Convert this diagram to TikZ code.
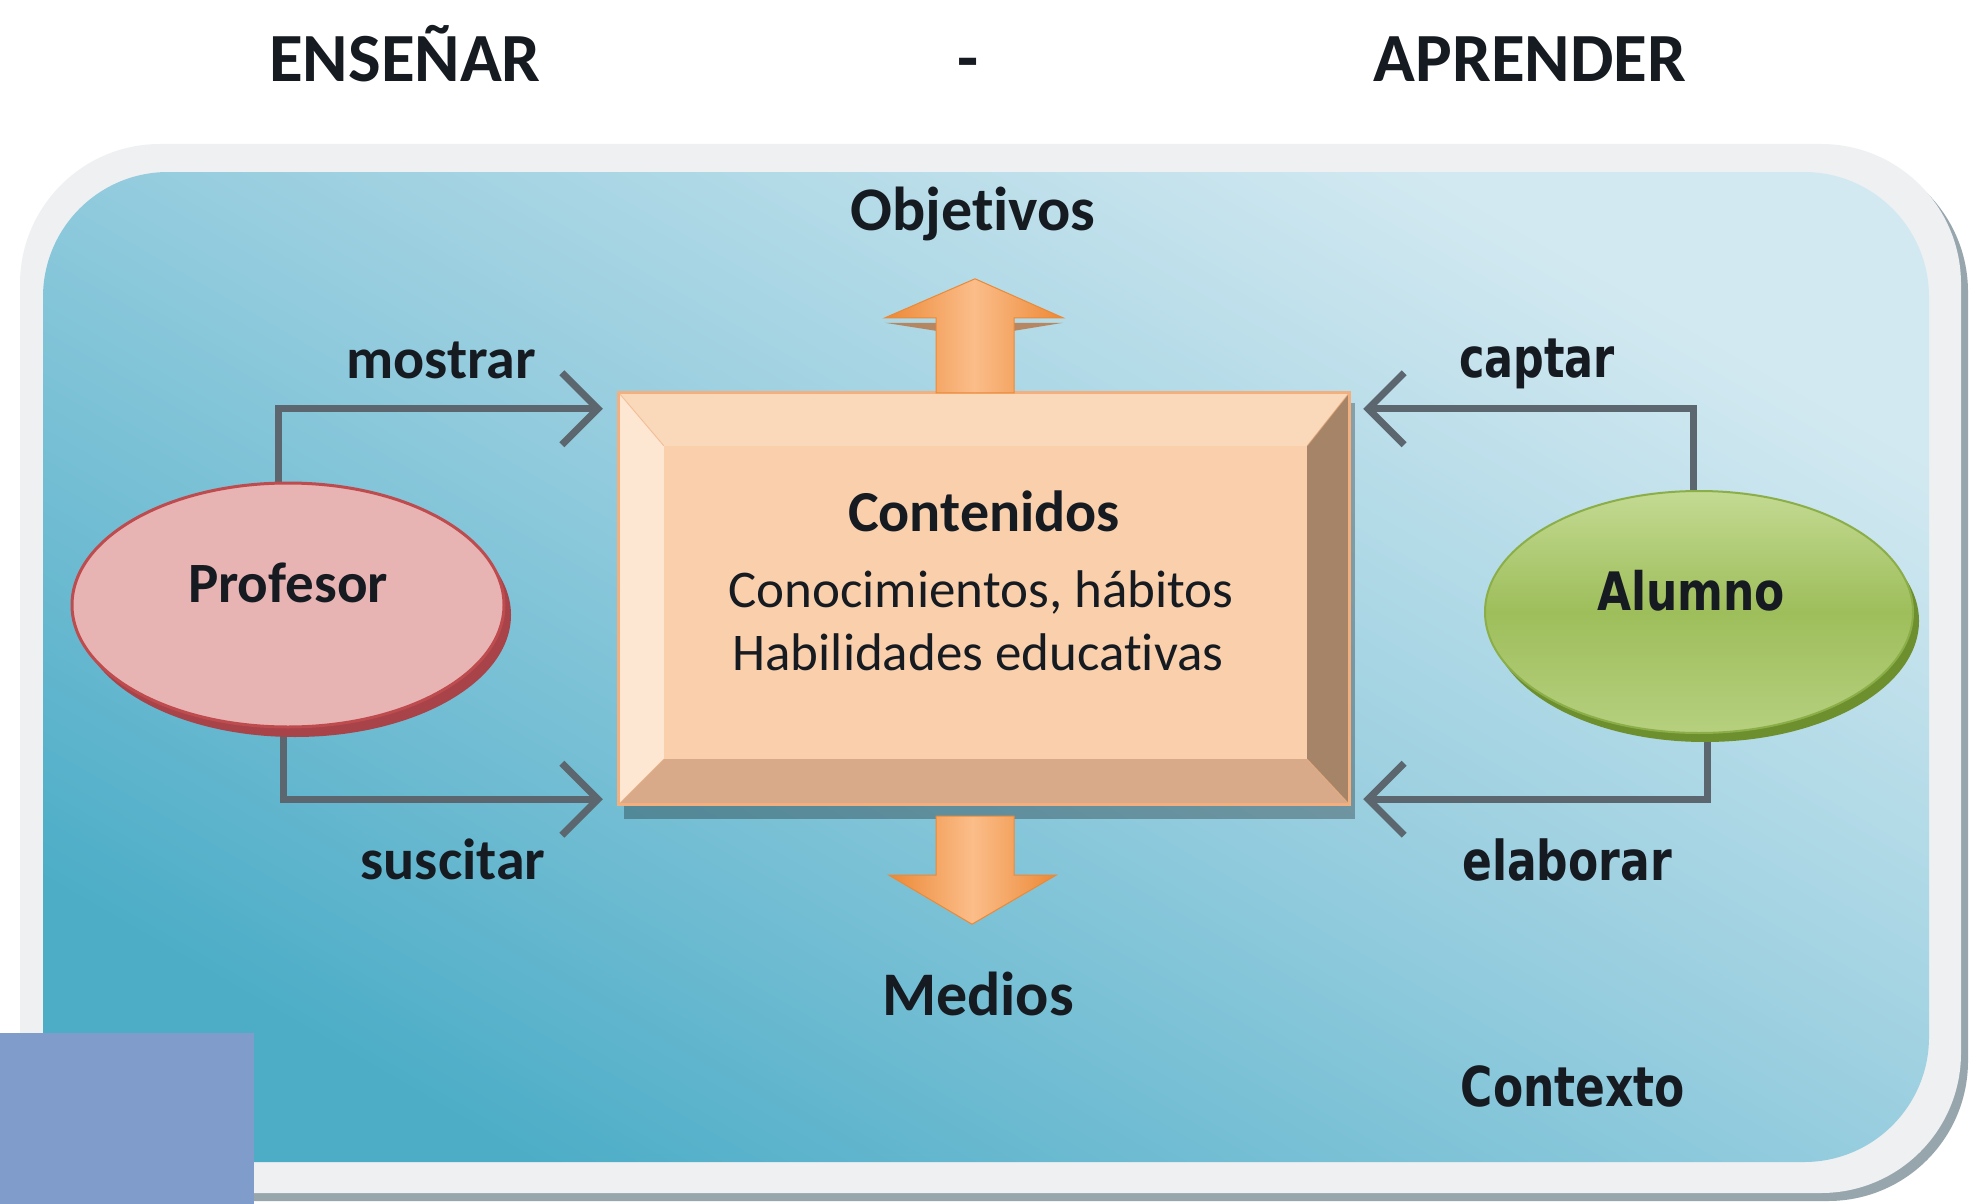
\documentclass[tikz,border=0pt]{standalone}
\usepackage{fontspec}
\setmainfont{Carlito}[Ligatures=NoCommon]
\newfontfamily\vfont{DejaVu Sans}
\usepackage{graphicx}
\usetikzlibrary{arrows.meta,calc,shapes.geometric}
\pgfdeclarelayer{bg}\pgfdeclarelayer{conn}\pgfsetlayers{bg,conn,main}
\definecolor{txt}{HTML}{161B22}
\definecolor{gline}{HTML}{5B666E}
\definecolor{framecol}{HTML}{EEF0F2}
\definecolor{frameshadow}{HTML}{97A5AD}
\definecolor{bluelight}{HTML}{D3E9F1}
\definecolor{bluemid}{HTML}{94CCDE}
\definecolor{bluedark}{HTML}{4DADC7}
\definecolor{profface}{HTML}{E8B3B3}
\definecolor{profedge}{HTML}{BE4B4E}
\definecolor{profrim}{HTML}{A8434A}
\definecolor{alumtop}{HTML}{C3DA92}
\definecolor{alummid}{HTML}{9EBE5B}
\definecolor{alumbot}{HTML}{B6D07F}
\definecolor{alumrim}{HTML}{6E8F2E}
\definecolor{alumedge}{HTML}{8CAE48}
\definecolor{bvtop}{HTML}{FAD8BA}
\definecolor{bvleft}{HTML}{FDE6D2}
\definecolor{bvright}{HTML}{A68468}
\definecolor{bvbot}{HTML}{D8AA89}
\definecolor{bvface}{HTML}{F9CFAC}
\definecolor{boxedge}{HTML}{F3B07E}
\definecolor{orgdark}{HTML}{EC8936}
\definecolor{orglight}{HTML}{FBBD8A}
\definecolor{orgshadow}{HTML}{B8652A}
\definecolor{purp}{HTML}{7F9CCB}
\begin{document}
\begin{tikzpicture}[x=1pt,y=-1pt,
  lab/.style={font=\fontsize{58pt}{68pt}\selectfont\bfseries, text=txt, anchor=base, inner sep=0pt},
  rlab/.style={font=\vfont\fontsize{55pt}{64pt}\selectfont\bfseries, text=txt, anchor=base, inner sep=0pt},
  ttl/.style={font=\fontsize{69pt}{80pt}\selectfont\bfseries, text=txt, anchor=base, inner sep=0pt},
  conn/.style={draw=gline, line width=7pt, -{Straight Barb[length=36pt,width=72pt]}},
  oarrow/.style={left color=orgdark, right color=orgdark, middle color=orglight, draw=orgdark, line width=1pt}
]
\useasboundingbox (0,0) rectangle (1978,1204);

\begin{pgfonlayer}{bg}
  \fill[white] (0,0) rectangle (1978,1204);
  \fill[frameshadow, rounded corners=140pt] (27,152) rectangle (1968,1201);
  \fill[framecol, rounded corners=140pt] (20,144) rectangle (1961,1193);
  \shade[rounded corners=125pt, top color=bluelight, bottom color=bluedark, middle color=bluemid, shading angle=-30] (43,172) rectangle (1929,1162);
\end{pgfonlayer}

% titles
\node[ttl] (ens) at (405,82) {ENSEÑAR};
\node[ttl] (dash) at (968,82) {-};
\node[ttl] (apr) at (1530,82) {APRENDER};

% central box
\node[minimum width=730pt, minimum height=411pt, inner sep=0pt] (cont) at (984,598.5) {};
\fill[black, opacity=.28] ($(cont.north west)+(5,10)$) rectangle ($(cont.south east)+(6,15)$);
\coordinate (iNW) at ($(cont.north west)+(45,53)$);
\coordinate (iNE) at ($(cont.north east)+(-42,53)$);
\coordinate (iSE) at ($(cont.south east)+(-42,-45)$);
\coordinate (iSW) at ($(cont.south west)+(45,-45)$);
\fill[bvface] (iNW) rectangle (iSE);
\fill[bvtop] (cont.north west) -- (cont.north east) -- (iNE) -- (iNW) -- cycle;
\fill[bvleft] (cont.north west) -- (iNW) -- (iSW) -- (cont.south west) -- cycle;
\fill[bvright] (cont.north east) -- (cont.south east) -- (iSE) -- (iNE) -- cycle;
\fill[bvbot] (cont.south west) -- (iSW) -- (iSE) -- (cont.south east) -- cycle;
\draw[boxedge, line width=1pt, opacity=.6] (cont.north west) -- (iNW) (cont.north east) -- (iNE) (cont.south east) -- (iSE) (cont.south west) -- (iSW);
\draw[boxedge, line width=3pt] (cont.north west) rectangle (cont.south east);

\node[lab] (conth) at (984,531) {Contenidos};
\node[font=\fontsize{53pt}{63pt}\selectfont, text=txt, anchor=base, inner sep=0pt, align=center] (cont1) at (981,607) {Conocimientos, hábitos};
\node[font=\fontsize{53pt}{63pt}\selectfont, text=txt, anchor=base, inner sep=0pt, align=center] (cont2) at (978,670) {Habilidades educativas};

% objetivos / medios
\node[lab, font=\fontsize{62pt}{72pt}\selectfont\bfseries] (obj) at (973,230) {Objetivos};
\node[lab, font=\fontsize{62pt}{72pt}\selectfont\bfseries] (med) at (978,1015) {Medios};

% orange arrows
\fill[orgshadow, opacity=.7] ($(cont.north)+(-99,-70)$) -- ($(cont.north)+(79,-70)$) -- ($(cont.north)+(30,-62)$) -- ($(cont.north)+(-48,-62)$) -- cycle;
\shade[oarrow] ($(cont.north)+(-48,0)$) -- ($(cont.north)+(-48,-75)$) -- ($(cont.north)+(-99,-75)$) -- ($(cont.north)+(-9,-114)$) -- ($(cont.north)+(79,-75)$) -- ($(cont.north)+(30,-75)$) -- ($(cont.north)+(30,0)$) -- cycle;
\shade[oarrow] ($(cont.south)+(-48,12)$) -- ($(cont.south)+(-48,71)$) -- ($(cont.south)+(-95,71)$) -- ($(cont.south)+(-12,120)$) -- ($(cont.south)+(72,71)$) -- ($(cont.south)+(30,71)$) -- ($(cont.south)+(30,12)$) -- cycle;

% Profesor
\fill[profrim] (295,615) ellipse [x radius=216, y radius=122];
\node[ellipse, minimum width=432pt, minimum height=244pt, inner sep=0pt, fill=profface, draw=profedge, line width=3pt] (prof) at (288,605) {};
\node[lab, font=\fontsize{57pt}{66pt}\selectfont\bfseries] (proft) at (288,602) {Profesor};

% Alumno
\fill[alumrim] (1705,621) ellipse [x radius=214, y radius=121];
\node[ellipse, minimum width=428pt, minimum height=242pt, inner sep=0pt, top color=alumtop, bottom color=alumbot, middle color=alummid, draw=alumedge, line width=2pt] (alum) at (1699,612) {};
\node[rlab, font=\vfont\fontsize{53pt}{62pt}\selectfont\bfseries] (alumt) at (1691,610) {\scalebox{0.83}[1]{Alumno}};

% connectors
\begin{pgfonlayer}{conn}
  \draw[conn] ([xshift=-10pt]prof.north) |- ([xshift=-16pt,yshift=-16pt]cont.north west);
  \draw[conn] ([xshift=-5pt]prof.south) |- ([xshift=-16pt,yshift=5pt]cont.south west);
  \draw[conn] ([xshift=-6pt]alum.north) |- ([xshift=14pt,yshift=-16pt]cont.north east);
  \draw[conn] ([xshift=8pt]alum.south) |- ([xshift=14pt,yshift=5pt]cont.south east);
\end{pgfonlayer}

% labels
\node[lab] (mos) at (441,378) {mostrar};
\node[lab] (sus) at (453,879) {suscitar};
\node[rlab] (cap) at (1537,377) {\scalebox{0.78}[1]{captar}};
\node[rlab] (ela) at (1567,880) {\scalebox{0.8}[1]{elaborar}};
\node[rlab] (ctx) at (1573,1106) {\scalebox{0.8}[1]{Contexto}};

% corner decoration
\fill[purp] (0,1033) rectangle (254,1204);
\end{tikzpicture}
\end{document}
